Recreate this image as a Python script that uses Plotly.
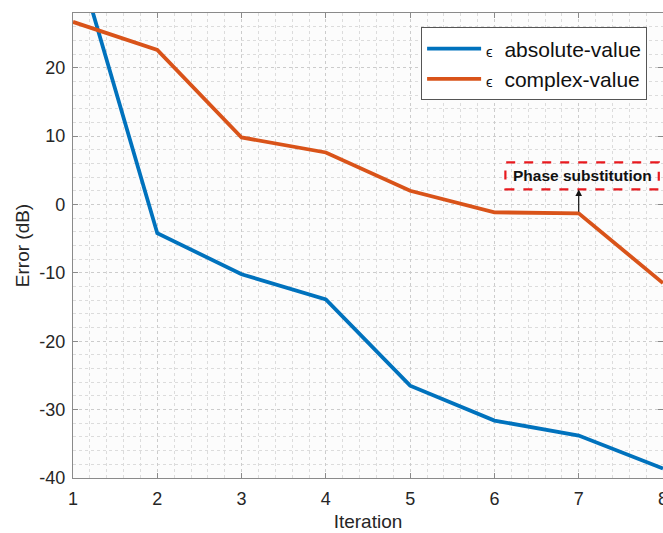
import plotly.graph_objects as go

# Iteration index and reconstruction error (dB) for the two error metrics
iterations = [1, 2, 3, 4, 5, 6, 7, 8]
err_absolute = [38.0, -4.2, -10.2, -13.9, -26.5, -31.6, -33.8, -38.6]
err_complex = [26.7, 22.6, 9.8, 7.6, 2.0, -1.15, -1.3, -11.5]

series_names = ["absolute-value", "complex-value"]
x_ticks = [1, 2, 3, 4, 5, 6, 7, 8]
y_ticks = [-40, -30, -20, -10, 0, 10, 20]

BLUE = "#0072BD"
ORANGE = "#D95319"
AXIS = "#8a8a8a"
TXT = "#262626"
FONT = "Liberation Sans, Arial, sans-serif"

eps = "<span style='font-size:15px'>ϵ</span>  "

fig = go.Figure()
fig.add_trace(go.Scatter(
    x=iterations, y=err_absolute, mode="lines",
    line=dict(color=BLUE, width=3.8),
    name=eps + series_names[0],
))
fig.add_trace(go.Scatter(
    x=iterations, y=err_complex, mode="lines",
    line=dict(color=ORANGE, width=3.8),
    name=eps + series_names[1],
))

# dashed callout box with label, and arrow from the curve up to it
fig.add_shape(type="rect", xref="x", yref="y",
              x0=6.13, x1=7.95, y0=2.2, y1=6.15,
              line=dict(color="#e8191e", width=2.2, dash="dash"),
              fillcolor="rgba(255,255,255,0)")
fig.add_annotation(x=7.04, y=4.18, xref="x", yref="y",
                   text="<b>Phase substitution</b>", showarrow=False,
                   font=dict(family=FONT, size=15.5, color="#111111"))
fig.add_annotation(x=7, y=2.2, xref="x", yref="y",
                   ax=7, ay=-1.3, axref="x", ayref="y",
                   text="", showarrow=True, arrowhead=2, arrowsize=1.1,
                   arrowwidth=1.2, arrowcolor="#111111", standoff=0)

axis_common = dict(
    showline=True, linecolor=AXIS, linewidth=1.2, mirror="ticks",
    ticks="inside", ticklen=5, tickcolor=AXIS, tickwidth=1,
    showgrid=True, gridcolor="#cccccc", griddash="dot", gridwidth=1,
    zeroline=False, automargin=False,
    tickfont=dict(family=FONT, size=18, color=TXT),
    ticklabeloverflow="allow",
)

fig.update_xaxes(
    range=[1, 8], tickvals=x_ticks, ticktext=[str(v) for v in x_ticks],
    minor=dict(dtick=0.2, showgrid=True, gridcolor="#dcdcdc", griddash="dot",
               gridwidth=1, ticks=""),
    ticklabelstandoff=4,
    title=dict(text="Iteration", font=dict(family=FONT, size=19, color=TXT), standoff=6),
    **axis_common,
)
fig.update_yaxes(
    range=[-40, 28], tickvals=y_ticks, ticktext=[str(v) for v in y_ticks],
    minor=dict(dtick=2, showgrid=True, gridcolor="#dcdcdc", griddash="dot",
               gridwidth=1, ticks=""),
    ticklabelstandoff=3,
    title=dict(text="Error (dB)", font=dict(family=FONT, size=19, color=TXT), standoff=4),
    **axis_common,
)

fig.update_layout(
    width=663, height=533,
    margin=dict(l=73, r=0, t=13, b=55, autoexpand=False),
    paper_bgcolor="white", plot_bgcolor="#fcfcfc",
    font=dict(family=FONT, color=TXT),
    showlegend=True,
    legend=dict(
        x=0.59, y=0.969, xanchor="left", yanchor="top",
        bgcolor="white", bordercolor="#555555", borderwidth=1,
        font=dict(family=FONT, size=21, color="#111111"),
        itemwidth=54, tracegroupgap=0,
    ),
)

fig.write_html("out.html")
